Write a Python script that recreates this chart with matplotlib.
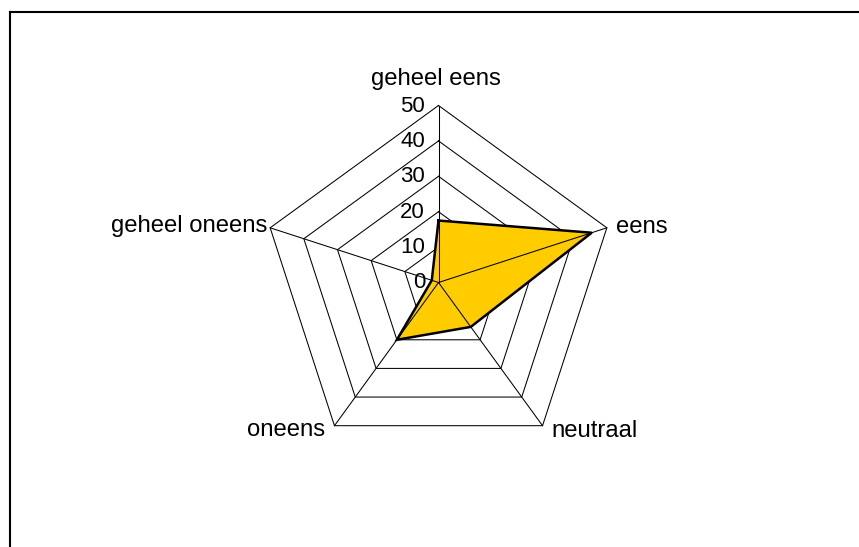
import numpy as np
import matplotlib
matplotlib.use("Agg")
import matplotlib.pyplot as plt
from matplotlib.lines import Line2D

plt.rcParams['font.family'] = ['Liberation Sans', 'DejaVu Sans']

categories = ["geheel eens", "eens", "neutraal", "oneens", "geheel oneens"]
values = [17.5, 45.5, 15.5, 20, 2]
ring_levels = [10, 20, 30, 40, 50]
tick_labels = ["0", "10", "20", "30", "40", "50"]
tick_values = [0, 10, 20, 30, 40, 50]

W, H = 859, 547
fig = plt.figure(figsize=(W / 100, H / 100), dpi=100)
fig.patch.set_facecolor("white")

cx, cy, R = 438.5, 547 - 282.5, 177.0
ax = fig.add_axes([(cx - R) / W, (cy - R) / H, 2 * R / W, 2 * R / H], projection="polar")
ax.set_theta_zero_location("N")
ax.set_theta_direction(-1)
ax.set_ylim(0, 50)
ax.set_xticks([])
ax.set_yticks([])
ax.grid(False)
ax.spines["polar"].set_visible(False)
ax.patch.set_visible(False)

n = len(categories)
theta = np.arange(n) * 2 * np.pi / n
theta_c = np.append(theta, theta[0])
vals_c = np.append(values, values[0])

# grid rings (behind fill)
for lvl in ring_levels:
    ax.plot(theta_c, [lvl] * (n + 1), color="black", lw=0.75, zorder=1, clip_on=False)

# filled data polygon
ax.fill(theta_c, vals_c, facecolor="#FFCC00", edgecolor="none", zorder=2, clip_on=False)

# spokes (over fill)
for t in theta:
    ax.plot([t, t], [0, 50], color="black", lw=0.75, zorder=3, clip_on=False)

# data outline
ax.plot(theta_c, vals_c, color="black", lw=1.8, zorder=4, clip_on=False, solid_joinstyle="miter")

# radial tick labels
for v, lab in zip(tick_values, tick_labels):
    ax.annotate(lab, xy=(0, v), xytext=(-13.5, -6), textcoords="offset pixels",
                ha="right", va="baseline", fontsize=16, color="black", annotation_clip=False)

# category labels
offsets = [(-2.5, 21, "center"), (9, -5, "left"), (9, -11, "left"), (-9.5, -10, "right"), (-3, -4, "right")]
for t, lab, (dx, dy, ha) in zip(theta, categories, offsets):
    ax.annotate(lab, xy=(t, 50), xytext=(dx, dy), textcoords="offset pixels",
                ha=ha, va="baseline", fontsize=17.2, color="black", annotation_clip=False)

# outer frame (left and top edges visible)
x0 = 9.5 / W
y0 = 1 - 11.5 / H
fig.add_artist(Line2D([x0, x0], [0, y0], transform=fig.transFigure, color="black", lw=1.5))
fig.add_artist(Line2D([x0, 1], [y0, y0], transform=fig.transFigure, color="black", lw=1.5))

fig.savefig("out.png", dpi=100)
